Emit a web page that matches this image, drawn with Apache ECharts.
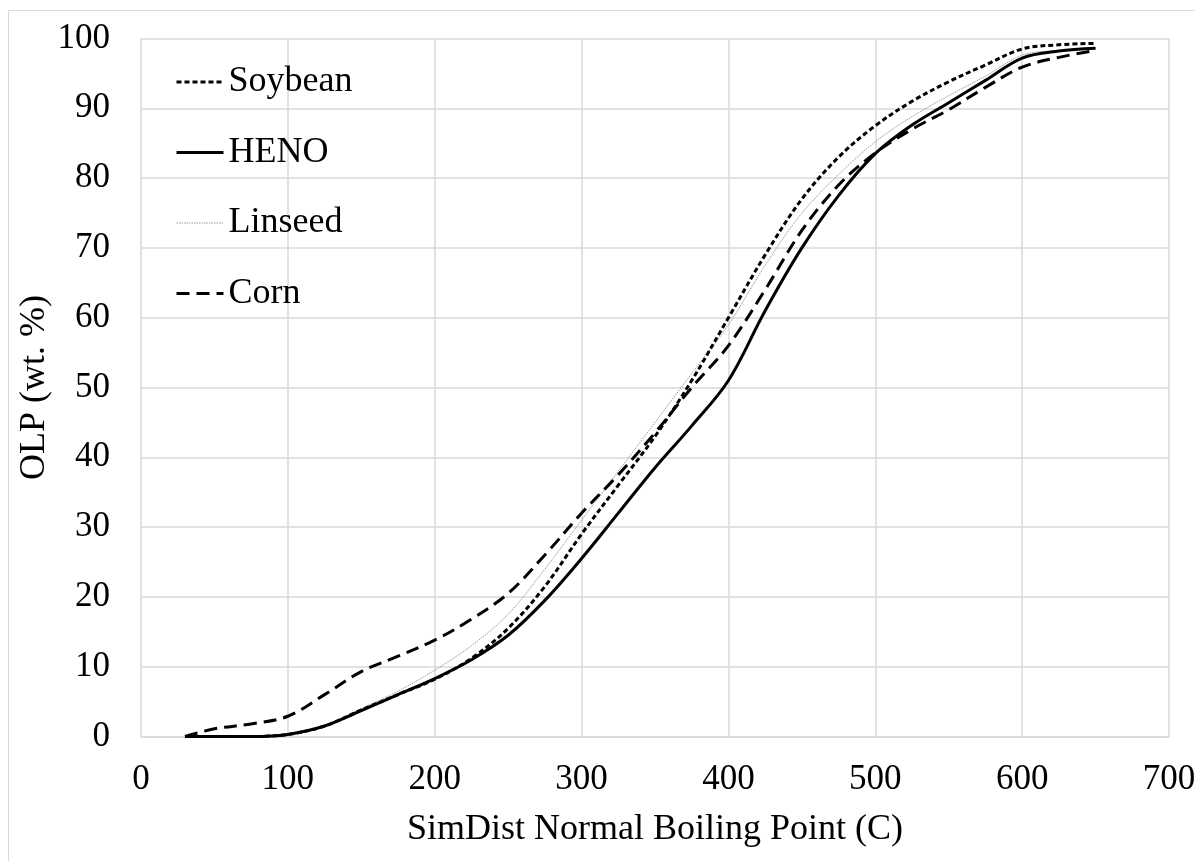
<!DOCTYPE html>
<html>
<head>
<meta charset="utf-8">
<script src="https://cdn.jsdelivr.net/npm/echarts@6/dist/echarts.min.js"></script>
<style>
  html, body { margin: 0; padding: 0; background: #ffffff; }
  #chart { width: 1195px; height: 861px; }
</style>
</head>
<body>
<div id="chart"></div>
<script>
// Boiling point (C) at which each cumulative OLP value is read
const temps = [30, 50, 75, 100, 125, 150, 175, 200, 225, 250, 275, 300, 325, 350, 375, 400, 425, 450, 475, 500, 525, 550, 575, 600, 625, 650];

// Cumulative OLP (wt. %) per oil
const soybean = [0, 0, 0, 0.3, 1.5, 3.8, 6, 8.2, 11.2, 15.5, 21.5, 29, 36, 43, 51, 60, 69, 77, 83, 87.5, 91, 93.8, 96.2, 98.5, 99.1, 99.3];
const heno    = [0, 0, 0, 0.3, 1.5, 3.7, 6, 8.3, 11, 14.5, 19.5, 25.5, 32, 38.5, 44.5, 51, 61, 70, 77.5, 83.5, 87.6, 90.8, 94, 97.2, 98.2, 98.6];
const linseed = [0, 0, 0, 0.3, 1.6, 4, 6.5, 9.5, 13, 17.5, 24, 31, 38, 45, 52, 59, 67.5, 75, 80.5, 85.2, 88.8, 91.8, 94.6, 97.6, 98.3, 98.6];
const corn    = [0, 1.1, 1.8, 2.9, 6, 9.3, 11.5, 13.8, 16.8, 20.5, 26, 32, 37.5, 43.5, 50, 56, 64, 72.5, 79, 83.6, 87, 89.8, 93, 95.9, 97.3, 98.3];

const xTicks = [0, 100, 200, 300, 400, 500, 600, 700];
const yTicks = [0, 10, 20, 30, 40, 50, 60, 70, 80, 90, 100];

const pair = (ys) => temps.map((t, i) => [t, ys[i]]);

const FONT = '"Liberation Serif", "Times New Roman", serif';
const GRID_COLOR = '#d9d9d9';

// Line look shared by each series and its legend entry
const styles = {
  Soybean: { color: '#000000', width: 3, type: [5, 3] },
  HENO:    { color: '#000000', width: 3, type: 'solid' },
  Linseed: { color: '#9a9a9a', width: 1, type: [1.5, 1] },
  Corn:    { color: '#000000', width: 3, type: [13, 7] }
};

const chart = echarts.init(document.getElementById('chart'), null, { renderer: 'canvas' });

const makeSeries = (name, values, z) => ({
  name, type: 'line', data: pair(values), smooth: 0.35,
  symbol: 'none', z,
  lineStyle: styles[name],
  itemStyle: { color: styles[name].color }
});

chart.setOption({
  backgroundColor: '#ffffff',
  animation: false,
  textStyle: { fontFamily: FONT, color: '#000000' },
  graphic: [{
    type: 'rect',
    shape: { x: 8.5, y: 10.5, width: 1250, height: 950 },
    style: { fill: 'none', stroke: GRID_COLOR, lineWidth: 1 },
    silent: true,
    z: -1
  }],
  grid: {
    left: 141, right: 26, top: 38.5, bottom: 124.5,
    containLabel: false,
    outerBoundsMode: 'none'
  },
  legend: {
    orient: 'vertical',
    left: 175,
    top: 64,
    padding: 0,
    itemWidth: 47,
    itemHeight: 36,
    itemGap: 34.5,
    itemStyle: { color: 'rgba(0,0,0,0)', borderWidth: 0, opacity: 0 },
    textStyle: { fontFamily: FONT, fontSize: 36, color: '#000000', lineHeight: 36 },
    data: ['Soybean', 'HENO', 'Linseed', 'Corn'].map((n) => ({
      name: n,
      lineStyle: Object.assign({}, styles[n])
    }))
  },
  xAxis: {
    type: 'value',
    min: xTicks[0],
    max: xTicks[xTicks.length - 1],
    interval: 100,
    name: 'SimDist Normal Boiling Point (C)',
    nameLocation: 'middle',
    nameGap: 75,
    nameMoveOverlap: false,
    nameTextStyle: { fontFamily: FONT, fontSize: 36, color: '#000000' },
    axisLine: { show: true, lineStyle: { color: GRID_COLOR, width: 1.5 } },
    axisTick: { show: false },
    axisLabel: { fontFamily: FONT, fontSize: 35, color: '#000000', margin: 26, hideOverlap: false },
    splitLine: { show: true, lineStyle: { color: GRID_COLOR, width: 1.5 } }
  },
  yAxis: {
    type: 'value',
    min: yTicks[0],
    max: yTicks[yTicks.length - 1],
    interval: 10,
    name: 'OLP (wt. %)',
    nameLocation: 'middle',
    nameGap: 88,
    nameMoveOverlap: false,
    nameTextStyle: { fontFamily: FONT, fontSize: 36, color: '#000000' },
    axisLine: { show: false },
    axisTick: { show: false },
    axisLabel: { fontFamily: FONT, fontSize: 35, color: '#000000', margin: 31 },
    splitLine: { show: true, lineStyle: { color: GRID_COLOR, width: 1.5 } }
  },
  series: [
    makeSeries('Soybean', soybean, 4),
    makeSeries('HENO', heno, 3),
    makeSeries('Linseed', linseed, 2),
    makeSeries('Corn', corn, 3)
  ]
});
</script>
</body>
</html>
